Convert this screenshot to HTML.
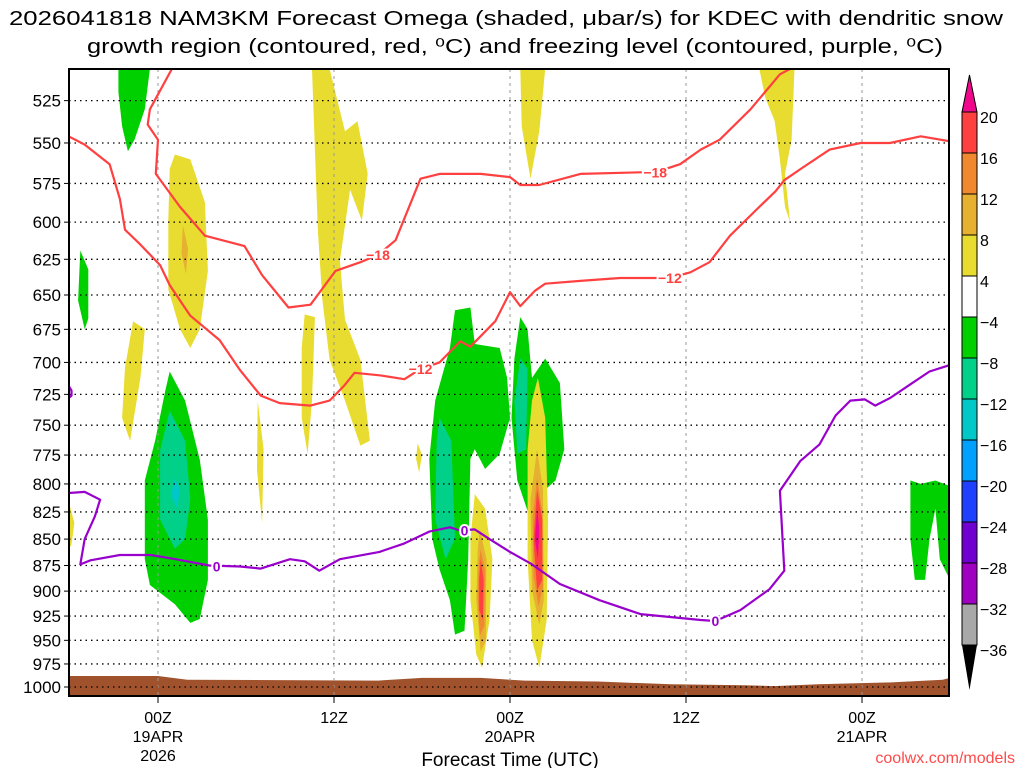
<!DOCTYPE html>
<html><head><meta charset="utf-8"><style>
html,body{margin:0;padding:0;background:#fff;width:1024px;height:768px;overflow:hidden}
svg{display:block;font-family:"Liberation Sans",sans-serif}
</style></head><body>
<svg id="chart" width="1024" height="768" viewBox="0 0 1024 768" xmlns="http://www.w3.org/2000/svg">
<defs><clipPath id="plotclip"><rect x="69" y="69" width="880" height="627"/></clipPath></defs>
<text x="506" y="25" font-size="20" text-anchor="middle" textLength="994" lengthAdjust="spacingAndGlyphs">2026041818 NAM3KM Forecast Omega (shaded, μbar/s) for KDEC with dendritic snow</text>
<text x="515" y="53" font-size="20" text-anchor="middle" textLength="856" lengthAdjust="spacingAndGlyphs">growth region (contoured, red, ⁰C) and freezing level (contoured, purple, ⁰C)</text>
<g id="plot" clip-path="url(#plotclip)"></g>
<g id="grid"></g>
<g id="lines" clip-path="url(#plotclip)"></g>
<rect x="69" y="69" width="880" height="627" fill="none" stroke="#000" stroke-width="2"/>
<g id="axes"></g>
<g id="cbar"></g>
<text x="510" y="766" font-size="19" text-anchor="middle">Forecast Time (UTC)</text>
<text x="1015" y="763" font-size="16" fill="#ff4a4a" text-anchor="end">coolwx.com/models</text>
</svg>
<script>
// ---- data (hours from 00Z 19APR, pressure hPa) ----
const pressureTicks=[525,550,575,600,625,650,675,700,725,750,775,800,825,850,875,900,925,950,975,1000];
const timeTicks=[0,12,24,36,48];
const timeLabels=[["00Z","19APR","2026"],["12Z"],["00Z","20APR"],["12Z"],["00Z","21APR"]];
const cbarLevels=["20","16","12","8","4","−4","−8","−12","−16","−20","−24","−28","−32","−36"];
const cbarColors=["#ff4040","#f08830","#e6b030","#e8dc30","#ffffff","#00d000","#00d088","#00c8c8","#00a0ff","#2040ff","#7000d0","#a000c0","#a8a8a8"];
const terrain=[[-6.1,988],[0,988],[2,992],[15,993],[18,990],[22,990],[25,993],[30,994],[35,997],[40,998],[42,999],[45,997],[50,995],[53.5,992],[54,990],[54,1012],[-6.1,1012]];
const shadeGreen=[
[[-2.7,507],[-0.55,507],[-0.9,530],[-1.6,548],[-2.05,555],[-2.45,540],[-2.7,520]],
[[-5.3,619],[-4.75,632],[-4.75,667],[-5,675],[-5.45,654]],
[[0.8,707],[1.85,730],[2.85,779],[3.4,832],[3.4,889],[2.85,928],[2.2,932],[1.15,913],[-0.55,894],[-0.9,869],[-0.9,797],[-0.2,763],[0.5,722]],
[[20.25,661],[21.3,659],[21.6,686],[23.3,689],[23.8,712],[24,744],[23.3,774],[22.3,787],[21.6,770],[21.3,778],[21.15,869],[20.9,940],[20.25,944],[19.9,909],[19.2,879],[18.7,850],[18.5,778],[18.9,730],[19.9,689]],
[[24.7,666],[25.2,675],[25.5,712],[26.4,697],[27.4,716],[27.7,770],[27.1,797],[26.4,805],[26,832],[25.4,832],[24.5,797],[24.1,744],[24.3,697]],
[[51.3,797],[52,800],[53,797],[54,802],[54,889],[53.3,869],[53,822],[52.6,850],[52.3,889],[51.6,889],[51.3,850]]];
const shadeTeal=[
[[0.8,738],[1.85,763],[2.2,813],[1.85,850],[1.15,859],[0.14,832],[0.14,771]],
[[19.2,744],[20,763],[20.25,850],[19.6,869],[18.9,832],[19,763]],
[[24.7,697],[25.2,705],[25.1,770],[24.5,774],[24.3,730]]];
const shadeCyan=[[[1.15,795],[1.5,805],[1.3,822],[0.9,810]]];
const shadeYellow=[
[[1.15,557],[2.2,560],[3.2,587],[3.4,633],[2.85,675],[2.2,689],[1.5,675],[0.7,646],[0.7,599],[0.8,566]],
[[10.5,507],[11.7,507],[12.75,543],[13.6,537],[14.3,569],[13.9,599],[13.1,579],[12.4,626],[12.75,668],[13.8,698],[14.45,763],[13.8,767],[12.75,730],[11.7,698],[11.2,653],[10.9,606],[10.7,554]],
[[10,664],[10.7,666],[10.5,730],[10.2,774],[9.8,744],[9.8,689]],
[[-1.7,669],[-0.9,675],[-1.2,712],[-1.9,763],[-2.45,744],[-2.25,704]],
[[6.8,730],[7.2,770],[7.1,835],[6.75,788]],
[[41,507],[43.4,507],[43.2,548],[42.75,569],[43.1,600],[42.75,590],[42.4,560],[42.05,537],[41.4,523]],
[[24.7,507],[26.4,507],[26,543],[25.4,572],[24.8,540]],
[[-6.1,815],[-5.7,835],[-5.9,855],[-6.1,860]],
[[17.7,765],[18,775],[17.8,790],[17.6,778]],
[[21.6,809],[22.3,822],[22.8,869],[22.6,929],[22.1,979],[21.7,965],[21.3,909],[21.3,850]],
[[25.9,712],[26.4,744],[26.6,832],[26.5,929],[26,979],[25.5,950],[25.2,869],[25.2,770],[25.5,730]]];
const shadeGold=[
[[1.7,602],[2.05,618],[1.9,635],[1.6,621]],
[[21.95,841],[22.4,869],[22.35,950],[22,962],[21.7,909],[21.8,860]],
[[25.85,770],[26.25,805],[26.3,909],[26,934],[25.5,899],[25.4,814]]];
const shadeOrange=[
[[22,860],[22.3,880],[22.25,935],[21.95,945],[21.8,905],[21.85,875]],
[[25.85,795],[26.2,825],[26.25,895],[25.95,915],[25.6,885],[25.55,830]]];
const shadeRed=[
[[22,869],[22.2,889],[22.15,929],[21.9,919],[21.9,889]],
[[25.85,805],[26.2,832],[26.2,889],[25.85,899],[25.6,850]]];
const shadePink=[[[25.85,822],[26,841],[25.9,869],[25.7,850]]];
const lineMinus18=[[0.95,507],[-0.55,530],[-0.7,539],[0,548],[-0.15,569],[1.5,590],[3.2,609],[5.9,616],[7.1,636],[8.9,659],[10.4,657],[12.1,633],[13.8,627],[15,622],[16.2,612],[17.9,572],[19.2,569],[22,569],[24,571],[24.7,576],[26,576],[28.8,569],[32.9,568],[33.9,568],[35.6,563],[37,554],[38.3,548],[40.4,530],[42.4,510],[43.1,507]];
const lineMinus12=[[-6.1,546],[-5,551],[-3.3,563],[-2.6,585],[-2.25,605],[-1.2,615],[0.14,629],[0.8,643],[2.2,665],[4.2,683],[5.6,706],[7,726],[8.3,732],[10.4,734],[11.7,730],[12.7,718],[13.4,708],[15.1,710],[16.8,713],[17.9,705],[19.2,700],[20.6,684],[21.3,688],[23,669],[24,648],[24.7,658],[25.7,647],[26.4,642],[28.8,640],[31.5,638],[33.5,638],[34.9,638],[36.3,634],[37.6,627],[39,609],[41,590],[42.1,580],[42.7,573],[43.8,566],[45.8,554],[47.9,550],[49.9,550],[52,546],[54,549]];
const lineZero=[[-6.1,808],[-5,807],[-3.95,814],[-4.3,829],[-5,850],[-5.3,874],[-4.6,870],[-2.6,865],[-0.5,865],[1.2,869],[3.5,875],[5.6,876],[7,878],[9,869],[10,871],[11,880],[12.4,869],[15.1,862],[16.8,854],[18.5,843],[19.9,839],[20.6,842],[21.6,841],[22.6,850],[24,862],[25.4,873],[27.4,893],[30.1,909],[32.9,923],[37,929],[38,930],[39.7,919],[41.7,898],[42.7,880],[42.4,806],[43.8,780],[45.1,766],[46.2,742],[47.2,730],[48.2,729],[48.9,734],[49.9,728],[51.3,717],[52.6,707],[54,702]];
const lineZeroSmall=[[-6.1,718],[-5.9,722],[-5.9,726],[-6.1,728]];
const labels18=[[15,622],[33.9,568]];
const labels12=[[17.9,705],[34.9,638]];
const labels0=[[4,876],[20.9,842],[38,930]];

// ---- axes ----
const NS="http://www.w3.org/2000/svg";
function X(h){return 158+h*14.667;}
function Y(p){return 687-910*Math.log(1000/p);}
function mk(tag,attrs,parent){const e=document.createElementNS(NS,tag);for(const k in attrs)e.setAttribute(k,attrs[k]);parent.appendChild(e);return e;}
const plotG=document.getElementById('plot'),gridG=document.getElementById('grid'),linesG=document.getElementById('lines'),axesG=document.getElementById('axes'),cbarG=document.getElementById('cbar');
function pts(a){return a.map(d=>X(d[0]).toFixed(1)+','+Y(d[1]).toFixed(1)).join(' ');}
function drawSet(set,color,name){set.forEach((poly,i)=>{const e=mk('polygon',{points:pts(poly),fill:color},plotG);

});}
drawSet(shadeGreen,'#00d000','omega-green');
drawSet(shadeTeal,'#00d088','omega-teal');
drawSet(shadeCyan,'#00c8c8','omega-cyan');
drawSet(shadeYellow,'#e8dc30','omega-yellow');
drawSet(shadeGold,'#e6b030','omega-gold');
drawSet(shadeOrange,'#f08830','omega-orange');
drawSet(shadeRed,'#ff4040','omega-red');
drawSet(shadePink,'#f0088c','omega-pink');
const ter=mk('polygon',{points:pts(terrain),fill:'#a0522d'},plotG);


pressureTicks.forEach(p=>{const y=Y(p);
const g=mk('line',{x1:69,x2:949,y1:y,y2:y,stroke:'#000','stroke-width':1.3,'stroke-dasharray':'1.5,4'},gridG);


mk('line',{x1:64,x2:69,y1:y,y2:y,stroke:'#000','stroke-width':1},axesG);
const t=mk('text',{x:61,y:y+6,'font-size':17,'text-anchor':'end'},axesG);t.textContent=p;

});
timeTicks.forEach((h,i)=>{const x=X(h);
const g=mk('line',{x1:x,x2:x,y1:69,y2:696,stroke:'#999','stroke-width':1,'stroke-dasharray':'3,4'},gridG);


mk('line',{x1:x,x2:x,y1:696,y2:703,stroke:'#000','stroke-width':1},axesG);
timeLabels[i].forEach((s,j)=>{const t=mk('text',{x:x,y:723+j*19,'font-size':16,'text-anchor':'middle'},axesG);t.textContent=s;

});});
function drawLine(d,c,name){const e=mk('polyline',{points:pts(d),fill:'none',stroke:c,'stroke-width':2.2,'stroke-linejoin':'round'},linesG);

}
drawLine(lineMinus18,'#ff4040','contour-minus18');
drawLine(lineMinus12,'#ff4040','contour-minus12');
drawLine(lineZero,'#9900cc','freezing-level-0');
drawLine(lineZeroSmall,'#9900cc','freezing-level-0-edge');
function lab(arr,txt,c,name){arr.forEach((d,i)=>{const t=mk('text',{x:X(d[0]),y:Y(d[1])+5,'font-size':14,'font-weight':'bold','text-anchor':'middle',fill:c,stroke:'#fff','stroke-width':4,'paint-order':'stroke'},linesG);t.textContent=txt;

});}
lab(labels18,'−18','#ff4040','label-minus18');
lab(labels12,'−12','#ff4040','label-minus12');
lab(labels0,'0','#9900cc','label-zero');
// colorbar
const cbX=962,cbW=15,cbTop=112,cbH=41;
const tri1=mk('polygon',{points:`${cbX},${cbTop} ${cbX+cbW},${cbTop} ${cbX+cbW/2},75`,fill:'#f0088c',stroke:'#000','stroke-width':1},cbarG);


cbarColors.forEach((c,i)=>{const r=mk('rect',{x:cbX,y:cbTop+i*cbH,width:cbW,height:cbH,fill:c,stroke:'#000','stroke-width':1},cbarG);

});
const cbBottom=cbTop+cbarColors.length*cbH;
const tri2=mk('polygon',{points:`${cbX},${cbBottom} ${cbX+cbW},${cbBottom} ${cbX+cbW/2},690`,fill:'#000'},cbarG);


cbarLevels.forEach((s,i)=>{const t=mk('text',{x:980,y:cbTop+i*cbH+11,'font-size':16},cbarG);t.textContent=s;

});
</script>
</body></html>
